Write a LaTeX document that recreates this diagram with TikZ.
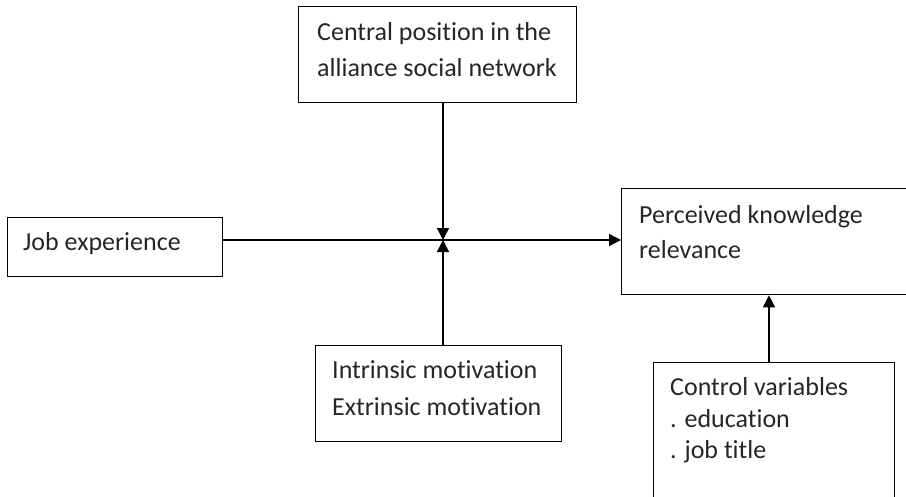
\documentclass[tikz,border=0pt]{standalone}
\usepackage{fontspec}
\setmainfont{Carlito}[Ligatures={NoCommon,NoRequired,NoContextual}]
\usetikzlibrary{arrows.meta}
\definecolor{txt}{HTML}{262626}
\begin{document}
\begin{tikzpicture}[x=1pt,y=-1pt,
  box/.style={draw=black,line width=1.3pt,rectangle,inner sep=0pt,anchor=north west},
  lbl/.style={anchor=base west,inner sep=0pt,text=txt,font=\fontsize{26}{30}\selectfont},
  conn/.style={draw=black,line width=1.3pt,-{Triangle[length=12pt,width=12pt]}}]
\useasboundingbox (0,0) rectangle (906,496);
% boxes
\node[box,minimum width=278pt,minimum height=96pt] (central) at (298,6) {};
\node[box,minimum width=215pt,minimum height=59pt] (job) at (7,217) {};
\node[box,minimum width=300pt,minimum height=106pt] (perc) at (621,188) {};
\node[box,minimum width=246pt,minimum height=96pt] (intr) at (315,345) {};
\node[box,minimum width=241pt,minimum height=140pt] (ctrl) at (653,362) {};
% labels
\node[lbl] (central1) at (317,40) {Central position in the};
\node[lbl] (central2) at (317,76) {alliance social network};
\node[lbl] (job1) at (23,250) {Job experience};
\node[lbl] (perc1) at (639,223) {Perceived knowledge};
\node[lbl] (perc2) at (639,258) {relevance};
\node[lbl] (intr1) at (332,378) {Intrinsic motivation};
\node[lbl] (intr2) at (332,415) {Extrinsic motivation};
\node[lbl] (ctrl1) at (670,395) {Control variables};
\node[lbl] (ctrl2) at (670,427) {. education};
\node[lbl] (ctrl3) at (670,458) {. job title};
% connectors
\coordinate (j) at (443,240);
\coordinate (c) at (769,330);
\draw[conn] (j -| job.east) -- (j -| perc.west);
\draw[conn] (central.south -| j) -- (j);
\draw[conn] (intr.north -| j) -- (j);
\draw[conn] (ctrl.north -| c) -- (perc.south -| c);
\end{tikzpicture}
\end{document}
